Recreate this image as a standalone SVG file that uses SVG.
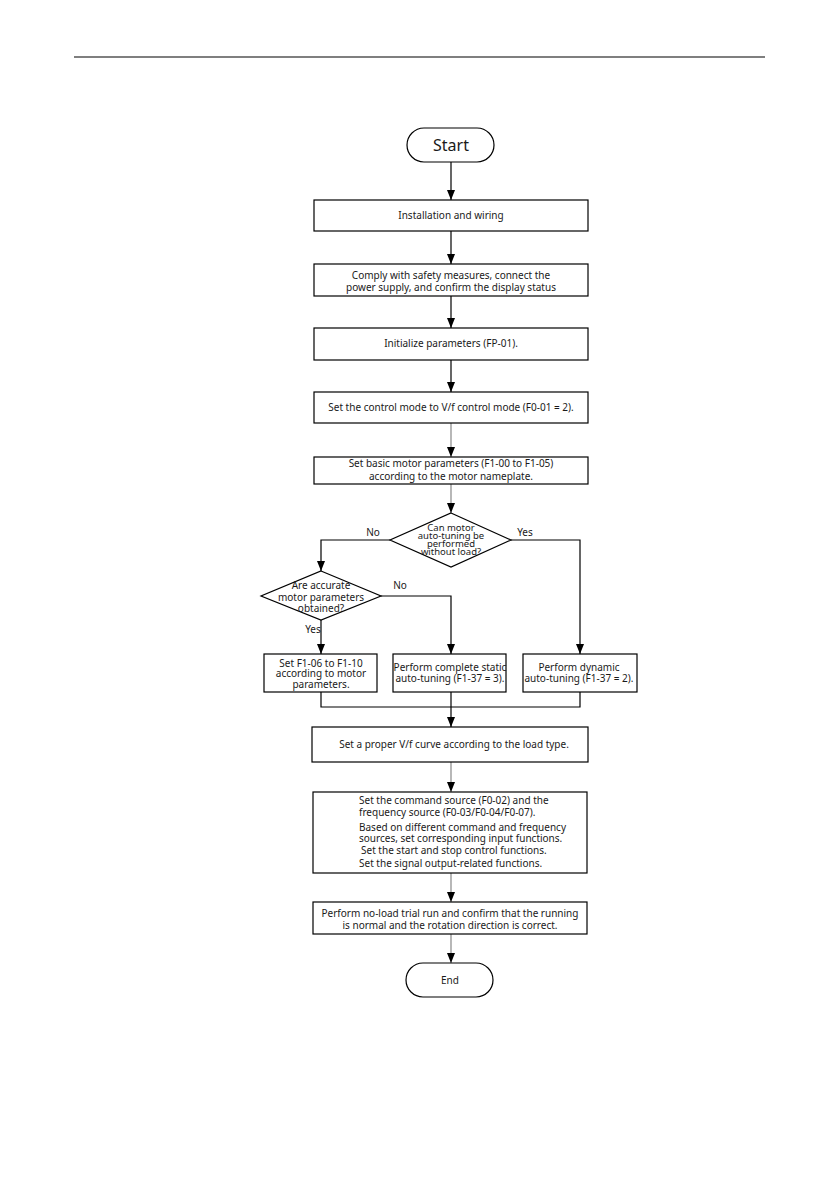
<svg xmlns="http://www.w3.org/2000/svg" width="839" height="1191" viewBox="0 0 839 1191">
<defs>
<marker id="ah" viewBox="0 0 10 8" refX="10" refY="4" markerWidth="10" markerHeight="8" markerUnits="userSpaceOnUse" orient="auto">
<path d="M0,0 L10,4 L0,8 Z" fill="#000"/>
</marker>
</defs>
<style>
.b{fill:#fff;stroke:#000;stroke-width:1.2}
.t{font-family:"Noto Sans","Liberation Sans",sans-serif;font-size:10px;fill:#1a1a1a}
.c{text-anchor:middle}
.l{fill:none;stroke:#000;stroke-width:1.2}
.g{fill:none;stroke:#888;stroke-width:1.2}
.s{font-size:9.5px}
</style>
<rect width="839" height="1191" fill="#fff"/>
<line x1="74" y1="57" x2="765" y2="57" stroke="#000" stroke-width="1.2"/>

<g id="connectors">
<path class="l" d="M451,162 V200" marker-end="url(#ah)"/>
<path class="l" d="M451,231 V264" marker-end="url(#ah)"/>
<path class="l" d="M451,296 V328" marker-end="url(#ah)"/>
<path class="l" d="M451,360 V392" marker-end="url(#ah)"/>
<path class="g" d="M451,423 V457" marker-end="url(#ah)"/>
<path class="g" d="M451,484 V513" marker-end="url(#ah)"/>
<path class="l" d="M390,540 H321 V571" marker-end="url(#ah)"/>
<path class="l" d="M511,540 H580 V654" marker-end="url(#ah)"/>
<path class="l" d="M321,620 V654" marker-end="url(#ah)"/>
<path class="l" d="M381,596 H451 V654" marker-end="url(#ah)"/>
<path class="l" d="M321,692 V707 H580 V692"/>
<path class="l" d="M451,692 V727" marker-end="url(#ah)"/>
<path class="g" d="M451,762 V792" marker-end="url(#ah)"/>
<path class="g" d="M451,873 V902" marker-end="url(#ah)"/>
<path class="g" d="M451,934 V963" marker-end="url(#ah)"/>
<text class="t" x="373" y="535.5" text-anchor="middle">No</text>
<text class="t" x="525" y="535.5" text-anchor="middle">Yes</text>
<text class="t" x="400" y="588.5" text-anchor="middle">No</text>
<text class="t" x="313" y="632.5" text-anchor="middle">Yes</text>
</g>

<g id="start">
<rect class="b" x="407" y="128" width="87" height="34" rx="17"/>
<text class="t c" x="451" y="151" style="font-size:16px">Start</text>
</g>
<g id="n1">
<rect class="b" x="314" y="200" width="274" height="31"/>
<text class="t c" x="451" y="218.5">Installation and wiring</text>
</g>
<g id="n2">
<rect class="b" x="314" y="264" width="274" height="32"/>
<text class="t c" x="451" y="278.5">Comply with safety measures, connect the</text>
<text class="t c" x="451" y="290.5">power supply, and confirm the display status</text>
</g>
<g id="n3">
<rect class="b" x="314" y="328" width="274" height="32"/>
<text class="t c" x="451" y="346.5">Initialize parameters (FP-01).</text>
</g>
<g id="n4">
<rect class="b" x="314" y="392" width="274" height="31"/>
<text class="t c" x="451" y="410.5">Set the control mode to V/f control mode (F0-01 = 2).</text>
</g>
<g id="n5">
<rect class="b" x="314" y="457" width="274" height="27"/>
<text class="t c" x="451" y="466.8">Set basic motor parameters (F1-00 to F1-05)</text>
<text class="t c" x="451" y="480.2">according to the motor nameplate.</text>
</g>
<g id="d1">
<polygon class="b" points="451,513 511,540 451,567 390,540"/>
<text class="t c s" x="451" y="530.5">Can motor</text>
<text class="t c s" x="451" y="538.5">auto-tuning be</text>
<text class="t c s" x="451" y="546.5">performed</text>
<text class="t c s" x="451" y="554.5">without load?</text>
</g>
<g id="d2">
<polygon class="b" points="321,571 381,596 321,620 261,596"/>
<text class="t c" x="321" y="588.5">Are accurate</text>
<text class="t c" x="321" y="600.5">motor parameters</text>
<text class="t c" x="321" y="611.5">obtained?</text>
</g>
<g id="n6">
<rect class="b" x="264" y="654" width="113" height="38"/>
<text class="t c" x="321" y="666.5">Set F1-06 to F1-10</text>
<text class="t c" x="321" y="676.5">according to motor</text>
<text class="t c" x="321" y="687.5">parameters.</text>
</g>
<g id="n7">
<rect class="b" x="393" y="654" width="113" height="38"/>
<text class="t c" x="450" y="670.5">Perform complete static</text>
<text class="t c" x="450" y="681.5">auto-tuning (F1-37 = 3).</text>
</g>
<g id="n8">
<rect class="b" x="523" y="654" width="114" height="38"/>
<text class="t c" x="579" y="670.5">Perform dynamic</text>
<text class="t c" x="579" y="681.5">auto-tuning (F1-37 = 2).</text>
</g>
<g id="n9">
<rect class="b" x="312" y="727" width="276" height="35"/>
<text class="t c" x="454" y="747.5">Set a proper V/f curve according to the load type.</text>
</g>
<g id="n10">
<rect class="b" x="313" y="792" width="274" height="81"/>
<text class="t" x="359" y="803.5">Set the command source (F0-02) and the</text>
<text class="t" x="359" y="815.5">frequency source (F0-03/F0-04/F0-07).</text>
<text class="t" x="359" y="830.5">Based on different command and frequency</text>
<text class="t" x="359" y="841.5">sources, set corresponding input functions.</text>
<text class="t" x="361" y="853.5">Set the start and stop control functions.</text>
<text class="t" x="359" y="866.5">Set the signal output-related functions.</text>
</g>
<g id="n11">
<rect class="b" x="313" y="902" width="274" height="32"/>
<text class="t c" x="450" y="916.5">Perform no-load trial run and confirm that the running</text>
<text class="t c" x="450" y="928.5">is normal and the rotation direction is correct.</text>
</g>
<g id="end">
<rect class="b" x="406" y="963" width="87" height="34" rx="17"/>
<text class="t c" x="450" y="983.5">End</text>
</g>
</svg>
